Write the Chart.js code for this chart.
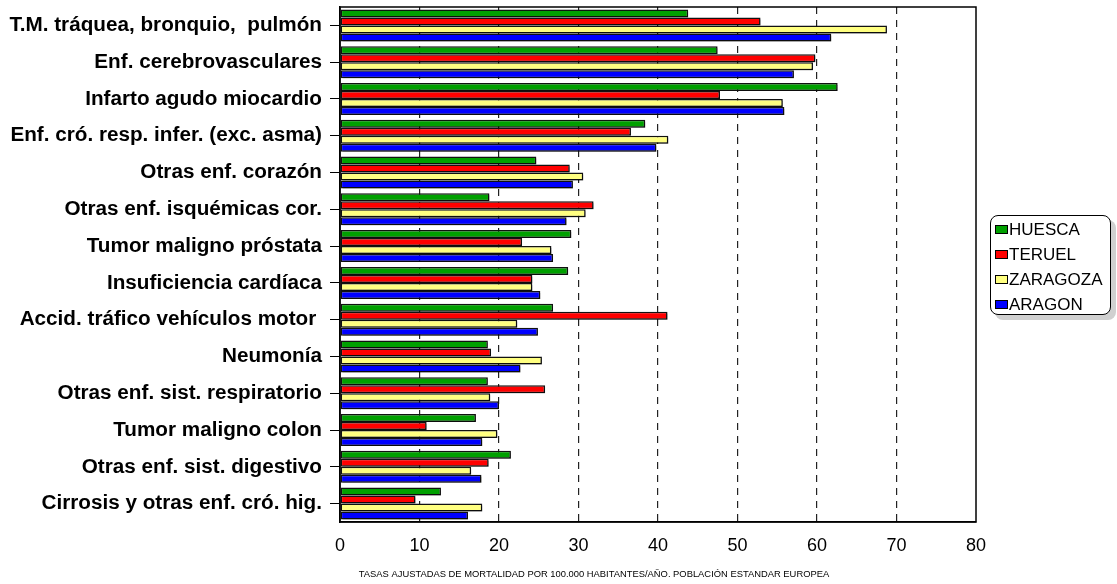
<!DOCTYPE html>
<html>
<head>
<meta charset="utf-8">
<script src="https://cdn.jsdelivr.net/npm/chart.js@4.4.0/dist/chart.umd.min.js"></script>
<style>
    html, body { margin: 0; padding: 0; background: #fff; }
    #wrap { position: relative; width: 1117px; height: 584px; }
    #legend {
        position: absolute; left: 990px; top: 215px; width: 121px; height: 100px;
        border: 1px solid #000; border-radius: 8px; background: #fff;
        box-shadow: 5px 5px 0 #d0d0d0; box-sizing: border-box;
        font-family: "Liberation Sans", Arial, sans-serif; font-size: 17px; color: #000;
        padding-top: 1px;
    }
    #legend div { height: 25px; line-height: 25px; white-space: nowrap; }
    #legend span.box {
        display: inline-block; width: 11px; height: 7px; border: 1px solid #000;
        margin: 0 1px 0 4px; vertical-align: 1px;
    }
</style>
</head>
<body>
<div id="wrap">
    <canvas id="chart" width="1117" height="584"></canvas>
    <div id="legend"></div>
</div>
<script>
// Causas de mortalidad - tasas ajustadas por provincia

const categories = [
    'T.M. tráquea, bronquio,  pulmón',
    'Enf. cerebrovasculares',
    'Infarto agudo miocardio',
    'Enf. cró. resp. infer. (exc. asma)',
    'Otras enf. corazón',
    'Otras enf. isquémicas cor.',
    'Tumor maligno próstata',
    'Insuficiencia cardíaca',
    'Accid. tráfico vehículos motor ',
    'Neumonía',
    'Otras enf. sist. respiratorio',
    'Tumor maligno colon',
    'Otras enf. sist. digestivo',
    'Cirrosis y otras enf. cró. hig.'
];

const seriesNames = ['HUESCA', 'TERUEL', 'ZARAGOZA', 'ARAGON'];

const huesca   = [43.8, 47.5, 62.6, 38.4, 24.7, 18.8, 29.1, 28.7, 26.8, 18.6, 18.6, 17.1, 21.5, 12.7];
const teruel   = [52.9, 59.8, 47.8, 36.6, 28.9, 31.9, 22.9, 24.2, 41.2, 19.0, 25.8, 10.9, 18.7, 9.5];
const zaragoza = [68.8, 59.5, 55.7, 41.3, 30.6, 30.9, 26.6, 24.2, 22.3, 25.4, 18.9, 19.8, 16.5, 17.9];
const aragon   = [61.8, 57.1, 55.9, 39.8, 29.3, 28.5, 26.8, 25.2, 24.9, 22.7, 20.0, 17.9, 17.8, 16.1];

const xTicks = [0, 10, 20, 30, 40, 50, 60, 70, 80];
const xTitle = 'TASAS AJUSTADAS DE MORTALIDAD POR 100.000 HABITANTES/AÑO. POBLACIÓN ESTANDAR EUROPEA';

const colors = ['#00a000', '#ff0000', '#ffff80', '#0000ff'];
const seriesData = [huesca, teruel, zaragoza, aragon];

const FONT = '"Liberation Sans", Arial, sans-serif';

// bars get a small grey drop shadow, then frame + axis title on top
const extras = {
    id: 'extras',
    beforeDatasetsDraw(chart) {
        const ctx = chart.ctx;
        ctx.save();
        ctx.shadowColor = 'rgba(0,0,0,0.28)';
        ctx.shadowOffsetX = 2;
        ctx.shadowOffsetY = 2;
        ctx.shadowBlur = 0;
    },
    afterDatasetsDraw(chart) {
        chart.ctx.restore();
    },
    afterDraw(chart) {
        const ctx = chart.ctx;
        const a = chart.chartArea;
        ctx.save();
        ctx.strokeStyle = '#000';
        ctx.lineWidth = 1.5;
        ctx.strokeRect(a.left, a.top, a.right - a.left, a.bottom - a.top);
        ctx.fillStyle = '#000';
        ctx.font = '9.4px ' + FONT;
        ctx.textAlign = 'center';
        ctx.textBaseline = 'middle';
        ctx.fillText(xTitle, 594, 574);
        ctx.restore();
    }
};

function buildLegend() {
    const el = document.getElementById('legend');
    let html = '';
    seriesNames.forEach((name, i) => {
        html += `<div><span class="box" style="background:${colors[i]}"></span>${name}</div>`;
    });
    el.innerHTML = html;
}

function buildChart() {
    const ctx = document.getElementById('chart');
    new Chart(ctx, {
        type: 'bar',
        data: {
            labels: categories,
            datasets: seriesNames.map((name, i) => ({
                label: name,
                data: seriesData[i],
                backgroundColor: colors[i],
                borderColor: '#111',
                borderWidth: 1.5,
                borderSkipped: false,
                barPercentage: 1.0,
                categoryPercentage: 0.87
            }))
        },
        options: {
            indexAxis: 'y',
            responsive: false,
            animation: false,
            layout: { padding: { top: 7, right: 141, bottom: 0, left: 0 } },
            plugins: {
                legend: { display: false },
                tooltip: { enabled: false }
            },
            scales: {
                x: {
                    min: 0,
                    max: 80,
                    afterBuildTicks: (scale) => { scale.ticks = xTicks.map(v => ({ value: v })); },
                    afterFit: (scale) => { scale.height = 62; scale.paddingLeft = 0; scale.paddingRight = 0; },
                    grid: {
                        color: (c) => (c.tick && (c.tick.value === 0 || c.tick.value === 80)) ? 'rgba(0,0,0,0)' : '#222',
                        lineWidth: 1.2,
                        drawTicks: false
                    },
                    border: { display: true, color: '#000', width: 1.5, dash: [7, 6] },
                    ticks: {
                        color: '#000',
                        padding: 13,
                        font: { family: FONT, size: 18 }
                    }
                },
                y: {
                    afterFit: (scale) => { scale.width = 340; scale.paddingTop = 0; scale.paddingBottom = 0; },
                    grid: {
                        offset: false,
                        drawOnChartArea: false,
                        drawTicks: true,
                        tickLength: 10,
                        color: '#000',
                        lineWidth: 1
                    },
                    border: { display: true, color: '#000', width: 1.5 },
                    ticks: {
                        color: '#000',
                        padding: 8,
                        autoSkip: false,
                        font: { family: FONT, size: 20.7, weight: 'bold' }
                    }
                }
            }
        },
        plugins: [extras]
    });
}

document.addEventListener('DOMContentLoaded', function() {
    buildLegend();
    buildChart();
});
</script>
</body>
</html>
